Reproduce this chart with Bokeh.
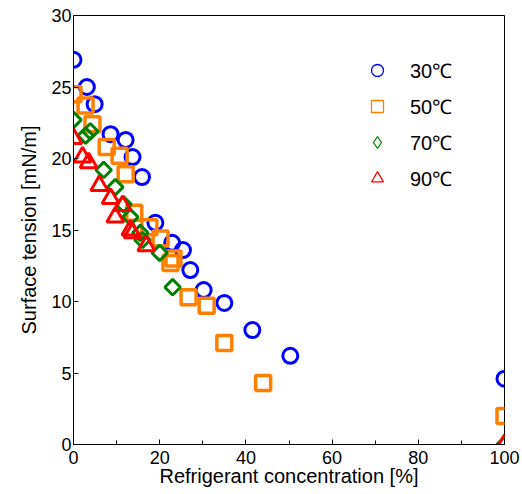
import math
from bokeh.plotting import figure
from bokeh.models import Legend, LegendItem, FixedTicker
from bokeh.embed import file_html
from bokeh.resources import INLINE

# 30 C (blue circles)
x30 = [0.0, 3.1, 4.9, 8.6, 12.1, 13.7, 15.9, 19.0, 22.9, 25.4, 27.1, 30.2, 35.0, 41.5, 50.3, 100.0]
y30 = [26.9, 25.0, 23.8, 21.7, 21.3, 20.1, 18.7, 15.5, 14.1, 13.6, 12.2, 10.8, 9.9, 8.0, 6.2, 4.6]
# 50 C (orange squares)
x50 = [0.0, 2.8, 4.4, 7.7, 10.7, 12.1, 14.1, 17.6, 20.2, 23.2, 22.5, 26.7, 30.9, 35.0, 44.0, 100.0]
y50 = [24.5, 23.7, 22.4, 20.8, 20.2, 18.9, 16.2, 15.2, 14.4, 13.0, 12.7, 10.3, 9.7, 7.1, 4.3, 2.0]
# 70 C (green diamonds)
x70 = [0.0, 2.8, 3.9, 7.0, 9.7, 11.6, 13.2, 15.5, 16.0, 20.0, 23.0, 100.0]
y70 = [22.7, 21.6, 21.9, 19.2, 18.0, 16.8, 15.9, 14.8, 14.3, 13.4, 11.0, 0.0]
# 90 C (red triangles)
x90 = [0.0, 2.1, 3.5, 6.0, 8.6, 11.4, 9.7, 13.2, 13.7, 16.9, 100.0]
y90 = [21.4, 20.1, 19.7, 18.1, 17.2, 16.7, 15.9, 15.0, 14.8, 13.9, 0.0]

labels = ["30℃", "50℃", "70℃", "90℃"]
x_major = [0, 20, 40, 60, 80, 100]
x_minor = [10, 30, 50, 70, 90]
y_major = [0, 5, 10, 15, 20, 25, 30]

FONT = "Liberation Sans"

p = figure(width=521, height=493, x_range=(0, 100), y_range=(0, 30),
           output_backend="svg", toolbar_location=None,
           min_border_left=73, min_border_right=17, min_border_top=15, min_border_bottom=49)
p.grid.visible = False
p.outline_line_color = "black"
p.outline_line_width = 1

# marker, colour, size, line width, angle, legend marker, legend size
series = [
    (x30, y30, "circle", "#0000FF", 15, 3, 0.0, "circle", 15),
    (x50, y50, "square", "#FF8000", 15, 3.5, 0.0, "square", 15),
    (x70, y70, "square", "#008000", 11, 3, math.pi / 4, "diamond", 19),
    (x90, y90, "triangle", "#FF0000", 17, 3, 0.0, "triangle", 17),
]
items = []
for (xs, ys, mk, col, sz, lw, ang, lmk, lsz), lab in zip(series, labels):
    p.scatter(xs, ys, marker=mk, size=sz, angle=ang, fill_color=None, line_color=col, line_width=lw)
    dummy = p.scatter([-1000], [-1000], marker=lmk, size=lsz, fill_color=None,
                      line_color=col, line_width=1.3)
    items.append(LegendItem(label=lab, renderers=[dummy]))

legend = Legend(items=items, location=(289, 251), border_line_color=None,
                background_fill_alpha=0, glyph_width=30, glyph_height=30,
                label_height=30, spacing=6, padding=5, label_standoff=18,
                label_text_font=FONT, label_text_font_size="20px",
                label_text_color="black", margin=0)
p.add_layout(legend, "center")

for ax in (p.xaxis[0], p.yaxis[0]):
    ax.major_label_text_font = FONT
    ax.major_label_text_font_size = "18px"
    ax.major_label_text_color = "black"
    ax.axis_label_text_font = FONT
    ax.axis_label_text_font_size = "20px"
    ax.axis_label_text_font_style = "normal"
    ax.axis_label_text_color = "black"
    ax.axis_line_color = "black"
    ax.major_tick_line_color = "black"
    ax.minor_tick_line_color = "black"
    ax.major_tick_in = 5
    ax.major_tick_out = 0
    ax.minor_tick_in = 4
    ax.minor_tick_out = 0
    ax.major_label_standoff = 2

p.xaxis[0].ticker = FixedTicker(ticks=x_major, minor_ticks=x_minor)
p.yaxis[0].ticker = FixedTicker(ticks=y_major, minor_ticks=[])
p.xaxis[0].axis_label = "Refrigerant concentration [%]"
p.yaxis[0].axis_label = "Surface tension [mN/m]"
p.xaxis[0].major_label_standoff = 6
p.xaxis[0].axis_label_standoff = -2
p.yaxis[0].axis_label_standoff = 8

open("out.html", "w").write(file_html(p, INLINE))
